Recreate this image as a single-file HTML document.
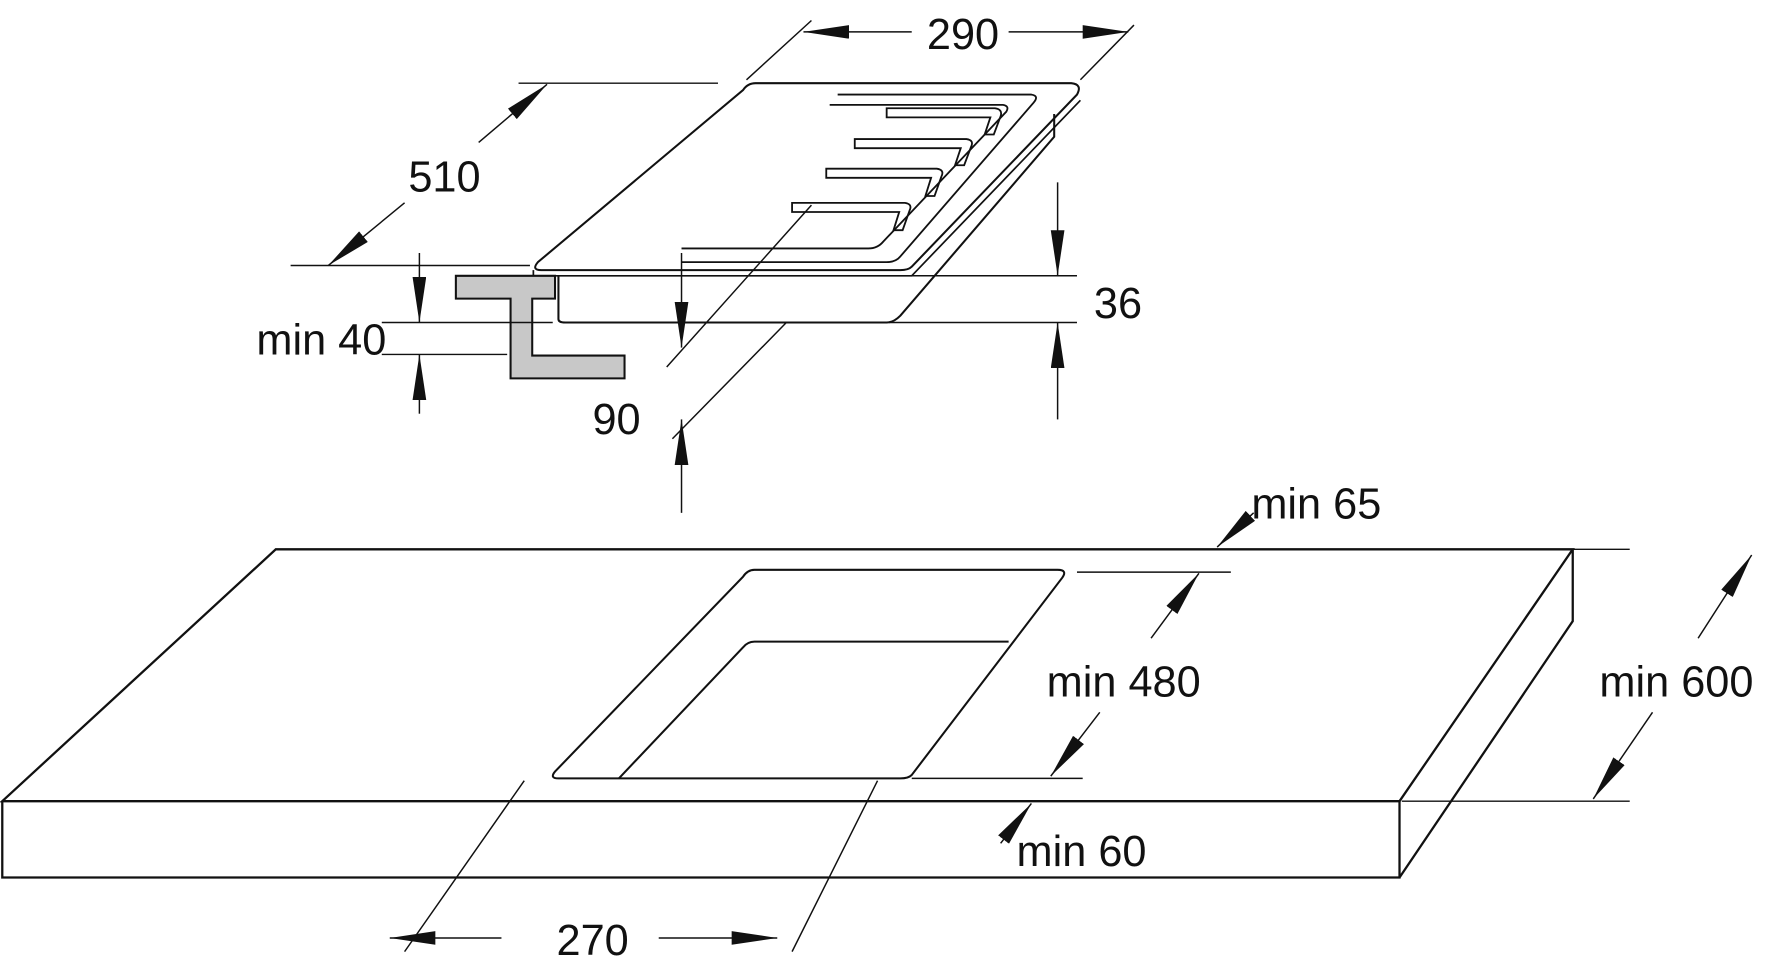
<!DOCTYPE html>
<html><head><meta charset="utf-8"><style>
html,body{margin:0;padding:0;background:#fff}
svg{display:block}
text{font-family:"Liberation Sans Narrow","Liberation Sans",sans-serif;font-size:38px;fill:#111}
</style></head><body>
<svg width="1787" height="971" viewBox="0 0 1568 852" preserveAspectRatio="none" xmlns="http://www.w3.org/2000/svg">
<defs>
<marker id="a" markerUnits="userSpaceOnUse" markerWidth="44" markerHeight="16" refX="40" refY="6" orient="auto">
<path d="M0,0 L40,6 L0,12 Z" fill="#111"/>
</marker>
</defs>
<g fill="none" stroke="#111" stroke-width="1.3">
<!-- counter -->
<path d="M242,482 L1380,482 L1228,703 L2,703 Z" stroke-width="2"/>
<path d="M2,703 L2,770 L1228,770 L1228,703 M1228,770 L1380,545 L1380,482" stroke-width="2"/>
<path d="M662,500 L928,500 Q937,500 932,507 L800,680 Q797,683 790,683 L490,683 Q482,683 487,677 L652,506 Q656,500 662,500 Z" stroke-width="1.8"/>
<path d="M885,563 L662,563 Q656,563 652,568 L543,683" stroke-width="1.8"/>
<!-- counter dims -->
<path d="M1380,482 L1430,482 M945,502 L1080,502 M800,683 L950,683 M1230,703 L1430,703"/>
<line x1="1100" y1="450" x2="1068" y2="480" marker-end="url(#a)"/>
<line x1="1010" y1="560" x2="1052" y2="503" marker-end="url(#a)"/>
<line x1="965" y1="625" x2="922" y2="681" marker-end="url(#a)"/>
<line x1="1490" y1="560" x2="1537" y2="487" marker-end="url(#a)"/>
<line x1="1450" y1="625" x2="1398" y2="701" marker-end="url(#a)"/>
<line x1="878" y1="740" x2="905" y2="705" marker-end="url(#a)"/>
<path d="M460,685 L355,835 M770,685 L695,835"/>
<line x1="440" y1="823" x2="342" y2="823" marker-end="url(#a)"/>
<line x1="578" y1="823" x2="682" y2="823" marker-end="url(#a)"/>
<!-- hob -->
<path d="M663,73 L940,73 Q950,74 945,83 L800,234 Q797,237 790,237 L475,237 Q466,237 472,230 L652,79 Q656,73 663,73 Z" stroke-width="1.8"/>
<path d="M468,237 L468,242 L800,242 L948,88" stroke-width="1.5"/>
<path d="M490,242 L490,280 Q490,283 496,283 L778,283 Q784,283 790,277 L925,120 L925,100" stroke-width="1.8"/>
<path d="M735,83 L905,83 Q912,84 907,90 L790,225 Q786,230 778,230 L598,230 M728,92 L880,92 Q886,93 883,98 L775,212 Q770,218 762,218 L598,218" stroke-width="1.6"/>
<g stroke-width="1.6">
<path d="M778,95 L873,95 Q880,96 878,102 L872,118 L864,118 L869,103 L778,103 Z"/>
<path d="M750,122 L848,122 Q855,123 852,129 L846,145 L838,145 L843,130 L750,130 Z"/>
<path d="M725,148 L822,148 Q829,149 826,155 L820,172 L812,172 L817,156 L725,156 Z"/>
<path d="M695,178 L794,178 Q801,179 798,185 L792,202 L784,202 L789,186 L695,186 Z"/>
</g>
<!-- bracket -->
<path d="M400,242 L487,242 L487,262 L467,262 L467,312 L548,312 L548,332 L448,332 L448,262 L400,262 Z" fill="#c8c8c8" stroke-width="1.8"/>
<!-- hob dims -->
<path d="M655,70 L712,18 M948,70 L995,22"/>
<line x1="800" y1="28" x2="705" y2="28" marker-end="url(#a)"/>
<line x1="885" y1="28" x2="990" y2="28" marker-end="url(#a)"/>
<path d="M455,73 L630,73 M255,233 L465,233"/>
<line x1="420" y1="125" x2="480" y2="74" marker-end="url(#a)"/>
<line x1="355" y1="178" x2="288" y2="233" marker-end="url(#a)"/>
<path d="M335,283 L485,283 M335,311 L445,311"/>
<line x1="368" y1="222" x2="368" y2="283" marker-end="url(#a)"/>
<line x1="368" y1="363" x2="368" y2="311" marker-end="url(#a)"/>
<path d="M800,242 L945,242 M780,283 L945,283"/>
<line x1="928" y1="160" x2="928" y2="242" marker-end="url(#a)"/>
<line x1="928" y1="368" x2="928" y2="283" marker-end="url(#a)"/>
<path d="M585,322 L712,180 M590,385 L690,283"/>
<line x1="598" y1="222" x2="598" y2="305" marker-end="url(#a)"/>
<line x1="598" y1="450" x2="598" y2="368" marker-end="url(#a)"/>
</g>
<text x="845" y="43" text-anchor="middle">290</text>
<text x="390" y="168" text-anchor="middle">510</text>
<text x="282" y="311" text-anchor="middle">min 40</text>
<text x="981" y="279" text-anchor="middle">36</text>
<text x="541" y="381" text-anchor="middle">90</text>
<text x="1155" y="455" text-anchor="middle">min 65</text>
<text x="986" y="611" text-anchor="middle">min 480</text>
<text x="1471" y="611" text-anchor="middle">min 600</text>
<text x="949" y="760" text-anchor="middle">min 60</text>
<text x="520" y="838" text-anchor="middle">270</text>
</svg>
</body></html>
